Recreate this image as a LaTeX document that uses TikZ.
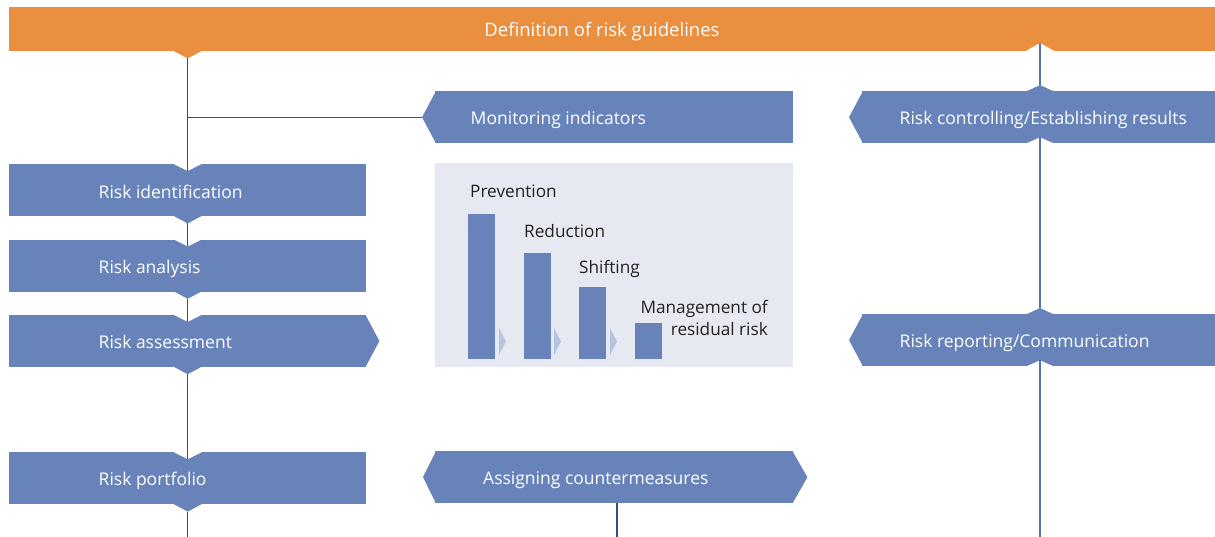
\documentclass[tikz,border=0pt]{standalone}
\usepackage{fontspec}
\setmainfont{Open Sans}
\usetikzlibrary{positioning}

\definecolor{riskblue}{HTML}{6783B9}
\definecolor{riskorange}{HTML}{EA8E40}
\definecolor{panelgray}{HTML}{E6E9F1}
\definecolor{arrowblue}{HTML}{B6C4E0}
\definecolor{spinedark}{HTML}{2F4F8B}
\definecolor{spinelight}{HTML}{5574B1}
\definecolor{labeltext}{HTML}{222222}

\begin{document}
\begin{tikzpicture}[x = 1pt, y = -1pt,
    box/.style = {fill = riskblue, minimum height = 52, inner sep = 0, anchor = north west},
    boxtext/.style = {text = white, inner sep = 0, anchor = base west, font = \fontsize{17.5}{20}\selectfont},
    steptext/.style = {text = labeltext, inner sep = 0, font = \fontsize{17.2}{22}\selectfont},
    spine/.style = {line width = 1.2pt, spinedark}]

    \useasboundingbox (0,0) rectangle (1215,537);

    % top bar
    \node [box, fill = riskorange, minimum width = 1206, minimum height = 44] (guide) at (9,7) {};
    \node [boxtext, anchor = base, font = \fontsize{18.5}{20}\selectfont] (guide-t) at (602,37) {Definition of risk guidelines};

    % left column, flowing down
    \node [box, minimum width = 357] (ident) at (9,164) {};
    \node [box, minimum width = 357, below = 23pt of ident] (anal) {};
    \node [box, minimum width = 357, below = 23pt of anal] (assess) {};
    \node [box, minimum width = 357, below = 85pt of assess] (port) {};
    \coordinate (guide-l) at (guide.south -| ident.north);
    \fill [riskorange] ([xshift = -15pt, yshift = 1pt]guide-l) -- ([xshift = 15pt, yshift = 1pt]guide-l) -- ([yshift = -7pt]guide-l) -- cycle;
    \foreach \b in {ident, anal, assess, port} {
      \fill [white] ([xshift = -15pt, yshift = 0.5pt]\b.north) -- ([xshift = 15pt, yshift = 0.5pt]\b.north) -- ([yshift = -7pt]\b.north) -- cycle;
      \fill [riskblue] ([xshift = -15pt, yshift = 1pt]\b.south) -- ([xshift = 15pt, yshift = 1pt]\b.south) -- ([yshift = -7pt]\b.south) -- cycle;
    }
    \fill [riskblue] ([xshift = -1pt]assess.north east) -- ([xshift = 13pt]assess.east) -- ([xshift = -1pt]assess.south east) -- cycle;
    \node [boxtext] (ident-t) at ([xshift = 89.5pt, yshift = -8pt]ident.west) {Risk identification};
    \node [boxtext] (anal-t) at ([xshift = 89.5pt, yshift = -7.5pt]anal.west) {Risk analysis};
    \node [boxtext] (assess-t) at ([xshift = 89.5pt, yshift = -7.5pt]assess.west) {Risk assessment};
    \node [boxtext] (port-t) at ([xshift = 89.5pt, yshift = -7.5pt]port.west) {Risk portfolio};

    % middle column
    \node [box, minimum width = 358] (mon) at (435,91) {};
    \fill [riskblue] ([xshift = 1pt]mon.north west) -- ([xshift = -13pt]mon.west) -- ([xshift = 1pt]mon.south west) -- cycle;
    \node [boxtext] (mon-t) at ([xshift = 35.5pt, yshift = -7pt]mon.west) {Monitoring indicators};

    \node [box, fill = panelgray, minimum width = 358, minimum height = 204] (panel) at (435,163) {};
    \foreach \x/\t in {468/214, 524/253, 579/287, 635/323}
      \fill [riskblue] (\x,\t) rectangle (\x+27,359);
    \foreach \x in {499, 554, 610}
      \fill [arrowblue] (\x,328) -- (\x+7,341.5) -- (\x,355) -- cycle;
    \node [steptext, anchor = base west] (prev) at (470,198) {Prevention};
    \node [steptext, anchor = base west] (redu) at (524,238) {Reduction};
    \node [steptext, anchor = base west] (shft) at (579,273) {Shifting};
    \node [steptext, anchor = base east, align = right] (resid) at (768,335) {Management of\\residual risk};

    \node [box, minimum width = 358] (assign) at (435,451) {};
    \fill [riskblue] ([xshift = 1pt]assign.north west) -- ([xshift = -12pt]assign.west) -- ([xshift = 1pt]assign.south west) -- cycle;
    \fill [riskblue] ([xshift = -1pt]assign.north east) -- ([xshift = 14pt]assign.east) -- ([xshift = -1pt]assign.south east) -- cycle;
    \node [boxtext] (assign-t) at ([xshift = 48pt, yshift = -7.5pt]assign.west) {Assigning countermeasures};

    % right column, flowing up
    \coordinate (spineR) at (1040,51);
    \fill [white] ([xshift = -15pt, yshift = -0.5pt]spineR) -- ([xshift = 15pt, yshift = -0.5pt]spineR) -- ([yshift = 8pt]spineR) -- cycle;
    \node [box, minimum width = 353] (ctrl) at (862,91) {};
    \node [box, minimum width = 353] (rep) at (862,314) {};
    \foreach \b in {ctrl, rep} {
      \fill [riskblue] ([xshift = 1pt]\b.north west) -- ([xshift = -13pt]\b.west) -- ([xshift = 1pt]\b.south west) -- cycle;
      \fill [riskblue] ([xshift = -15pt, yshift = -1pt]\b.north -| spineR) -- ([xshift = 15pt, yshift = -1pt]\b.north -| spineR) -- ([yshift = 6pt]\b.north -| spineR) -- cycle;
      \fill [white] ([xshift = -15pt, yshift = -0.5pt]\b.south -| spineR) -- ([xshift = 15pt, yshift = -0.5pt]\b.south -| spineR) -- ([yshift = 6pt]\b.south -| spineR) -- cycle;
    }
    \node [boxtext] (ctrl-t) at ([xshift = 37.5pt, yshift = -7pt]ctrl.west) {Risk controlling/Establishing results};
    \node [boxtext] (rep-t) at ([xshift = 37.5pt, yshift = -7pt]rep.west) {Risk reporting/Communication};

    % connecting lines
    \coordinate (endL) at (188,537);
    \coordinate (endM) at (617,537);
    \coordinate (endR) at (1040,537);
    \draw [spine] ([yshift = -7pt]guide-l) -- ([yshift = -7pt]ident.north);
    \foreach \a/\b in {ident/anal, anal/assess, assess/port}
      \draw [spine] ([yshift = -7pt]\a.south) -- ([yshift = -7pt]\b.north);
    \draw [spine] ([yshift = -7pt]port.south) -- (port.south |- endL);
    \draw [spine] (ident.north |- mon.west) -- ([xshift = -13pt]mon.west);
    \draw [spine] (assign.south -| endM) -- (endM);
    \draw [spine, spinelight] ([yshift = 8pt]spineR) -- ([yshift = 6pt]ctrl.north -| spineR);
    \draw [spine, spinelight] ([yshift = 6pt]ctrl.south -| spineR) -- ([yshift = 6pt]rep.north -| spineR);
    \draw [spine, spinelight] ([yshift = 6pt]rep.south -| spineR) -- (endR);
\end{tikzpicture}
\end{document}
